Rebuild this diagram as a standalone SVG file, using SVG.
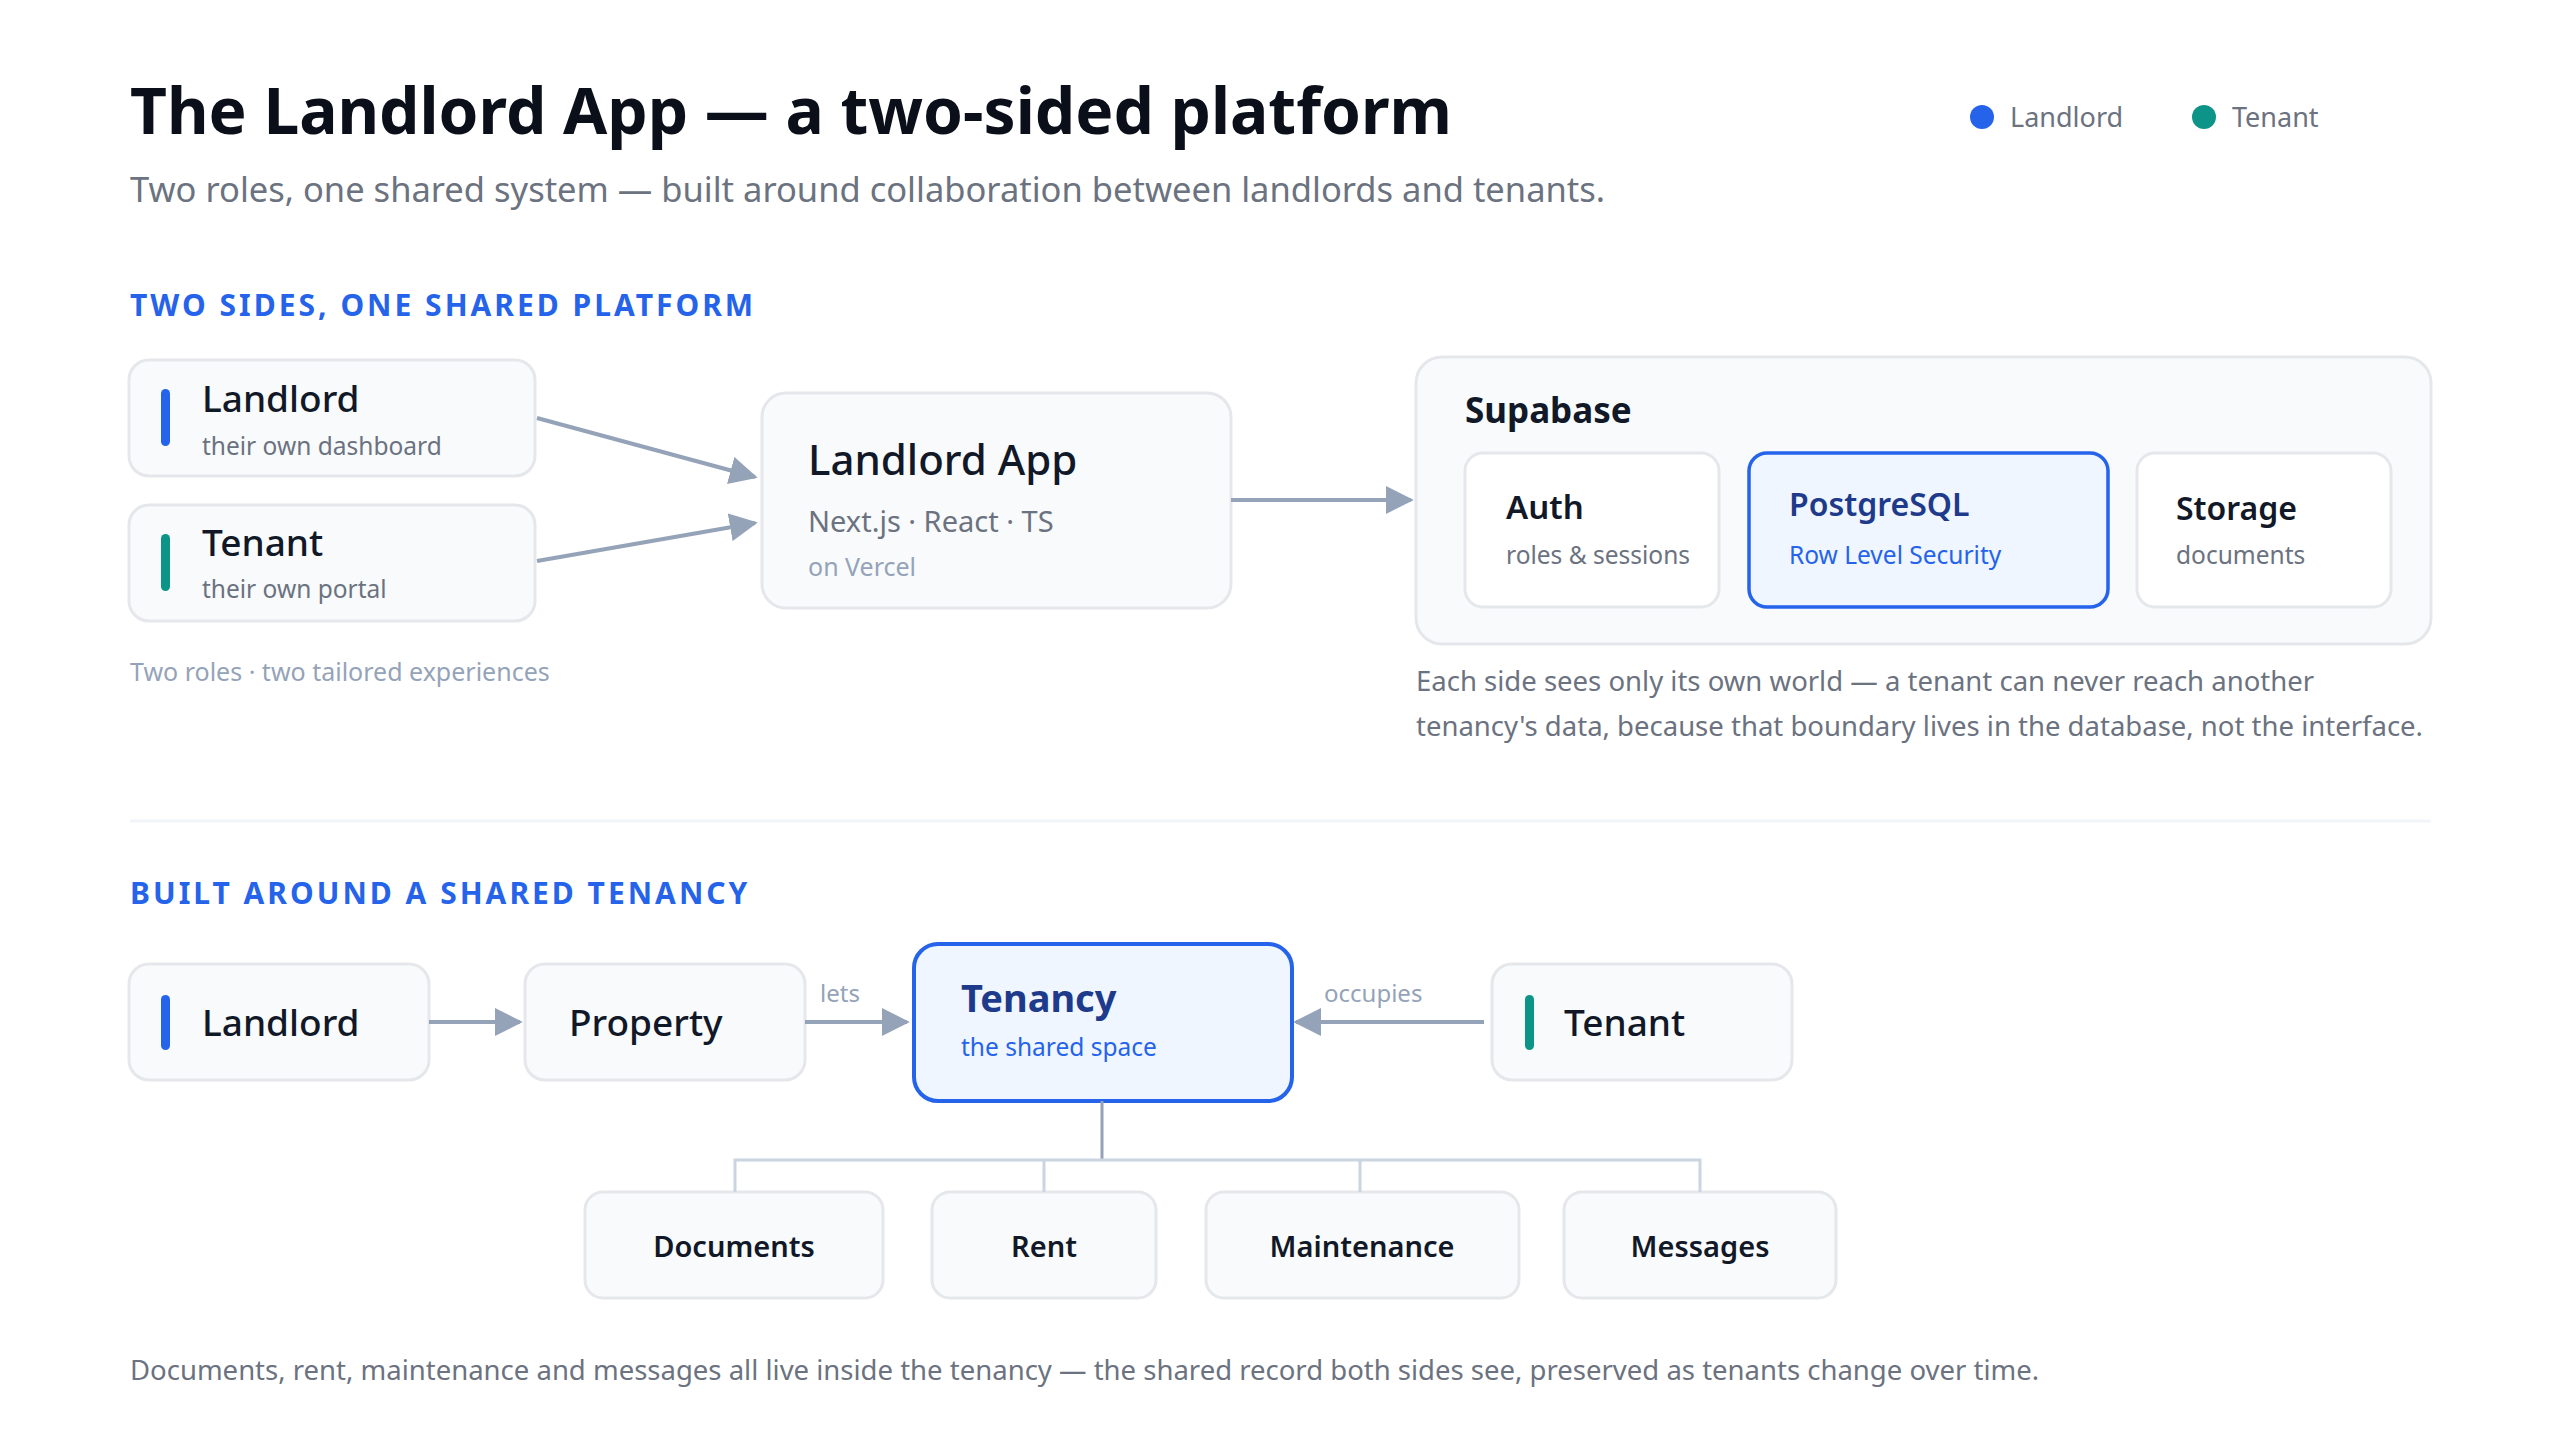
<svg xmlns="http://www.w3.org/2000/svg" width="2560" height="1440" viewBox="0 0 2560 1440">
<defs>
<marker id="ah" viewBox="0 0 10 10" refX="9" refY="5" markerWidth="7" markerHeight="7" markerUnits="strokeWidth" orient="auto"><path d="M0,0 L10,5 L0,10 z" fill="#94a3b8"/></marker>
<style>
text{font-family:"Noto Sans","Open Sans","DejaVu Sans",sans-serif}
.card{fill:#f8fafc;stroke:#e5e7eb;stroke-width:3}
.white{fill:#ffffff;stroke:#e5e7eb;stroke-width:3}
.hl{fill:#eff6ff;stroke:#2563eb;stroke-width:3.5}
.h{font-size:30px;font-weight:700;fill:#2563eb;letter-spacing:3px}
.name{font-size:37px;font-weight:500;fill:#111827}
.sub{font-size:24.5px;fill:#6b7280}
.child{font-size:29px;font-weight:600;fill:#111827;text-anchor:middle}
.note{font-size:27.5px;fill:#6b7280}
.lbl{font-size:24px;fill:#94a3b8}
.conn{stroke:#94a3b8;stroke-width:4;fill:none}
</style>
</defs>
<rect width="2560" height="1440" fill="#ffffff"/>
<text x="130" y="134" font-size="64" font-weight="700" fill="#0b0f19">The Landlord App — a two-sided platform</text>
<text x="130" y="202" font-size="34.5" fill="#6b7280">Two roles, one shared system — built around collaboration between landlords and tenants.</text>
<g id="legend">
<circle cx="1982" cy="117" r="12" fill="#2563eb"/><text x="2010" y="127" font-size="27" fill="#6b7280">Landlord</text>
<circle cx="2204" cy="117" r="12" fill="#0d9488"/><text x="2232" y="127" font-size="27" fill="#6b7280">Tenant</text>
</g>
<text class="h" x="130" y="316">TWO SIDES, ONE SHARED PLATFORM</text>
<g id="landlord1"><rect class="card" x="129" y="360" width="406" height="116" rx="20"/><rect x="161" y="389" width="9" height="57" rx="4.5" fill="#2563eb"/><text class="name" x="202" y="412">Landlord</text><text class="sub" x="202" y="455">their own dashboard</text></g>
<g id="tenant1"><rect class="card" x="129" y="505" width="406" height="116" rx="20"/><rect x="161" y="534" width="9" height="57" rx="4.5" fill="#0d9488"/><text class="name" x="202" y="556">Tenant</text><text class="sub" x="202" y="598">their own portal</text></g>
<text x="130" y="681" font-size="25" fill="#94a3b8">Two roles · two tailored experiences</text>
<g id="app"><rect class="card" x="762" y="393" width="469" height="215" rx="24"/><text x="808" y="475" font-size="42" font-weight="500" fill="#111827">Landlord App</text><text x="808" y="532" font-size="29" fill="#6b7280">Next.js · React · TS</text><text x="808" y="576" font-size="25" fill="#94a3b8">on Vercel</text></g>
<g id="supabase"><rect class="card" x="1416" y="357" width="1015" height="287" rx="26"/><text x="1465" y="423" font-size="35" font-weight="700" fill="#111827">Supabase</text>
<g id="auth"><rect class="white" x="1465" y="453" width="254" height="154" rx="18"/><text x="1506" y="519" font-size="33" font-weight="600" fill="#111827">Auth</text><text class="sub" x="1506" y="564">roles &amp; sessions</text></g>
<g id="postgres"><rect class="hl" x="1749" y="453" width="359" height="154" rx="18"/><text x="1789" y="516" font-size="32" font-weight="600" fill="#1e3a8a">PostgreSQL</text><text x="1789" y="564" font-size="24.5" fill="#2563eb">Row Level Security</text></g>
<g id="storage"><rect class="white" x="2137" y="453" width="254" height="154" rx="18"/><text x="2176" y="520" font-size="32" font-weight="600" fill="#111827">Storage</text><text class="sub" x="2176" y="564">documents</text></g>
</g>
<text class="note" x="1416" y="691">Each side sees only its own world — a tenant can never reach another</text>
<text class="note" x="1416" y="736">tenancy's data, because that boundary lives in the database, not the interface.</text>
<line x1="130" y1="821" x2="2431" y2="821" stroke="#f1f5f9" stroke-width="3"/>
<text class="h" x="130" y="904">BUILT AROUND A SHARED TENANCY</text>
<g id="landlord2"><rect class="card" x="129" y="964" width="300" height="116" rx="20"/><rect x="161" y="995" width="9" height="55" rx="4.5" fill="#2563eb"/><text class="name" x="202" y="1036">Landlord</text></g>
<g id="property"><rect class="card" x="525" y="964" width="280" height="116" rx="20"/><text class="name" x="569" y="1036">Property</text></g>
<g id="tenancy"><rect x="914" y="944" width="378" height="157" rx="24" fill="#eff6ff" stroke="#2563eb" stroke-width="4"/><text x="961" y="1012" font-size="38" font-weight="700" fill="#1e3a8a">Tenancy</text><text x="961" y="1056" font-size="24.5" fill="#2563eb">the shared space</text></g>
<g id="tenant2"><rect class="card" x="1492" y="964" width="300" height="116" rx="20"/><rect x="1525" y="995" width="9" height="55" rx="4.5" fill="#0d9488"/><text class="name" x="1564" y="1036">Tenant</text></g>
<g id="documents"><rect class="card" x="585" y="1192" width="298" height="106" rx="18"/><text class="child" x="734" y="1257">Documents</text></g>
<g id="rent"><rect class="card" x="932" y="1192" width="224" height="106" rx="18"/><text class="child" x="1044" y="1257">Rent</text></g>
<g id="maintenance"><rect class="card" x="1206" y="1192" width="313" height="106" rx="18"/><text class="child" x="1362" y="1257">Maintenance</text></g>
<g id="messages"><rect class="card" x="1564" y="1192" width="272" height="106" rx="18"/><text class="child" x="1700" y="1257">Messages</text></g>
<g id="connectors">
<line class="conn" x1="537" y1="418" x2="755" y2="477" marker-end="url(#ah)"/>
<line class="conn" x1="537" y1="561" x2="755" y2="523" marker-end="url(#ah)"/>
<line class="conn" x1="1231" y1="500" x2="1411" y2="500" marker-end="url(#ah)"/>
<line class="conn" x1="429" y1="1022" x2="520" y2="1022" marker-end="url(#ah)"/>
<line class="conn" x1="805" y1="1022" x2="907" y2="1022" marker-end="url(#ah)"/>
<line class="conn" x1="1484" y1="1022" x2="1296" y2="1022" marker-end="url(#ah)"/>
<line x1="1102" y1="1101" x2="1102" y2="1160" stroke="#94a3b8" stroke-width="3"/>
<path d="M735,1192 V1160 H1700 V1192 M1044,1160 V1192 M1360,1160 V1192" fill="none" stroke="#cbd5e1" stroke-width="3"/>
<text class="lbl" x="820" y="1002">lets</text>
<text class="lbl" x="1324" y="1002">occupies</text>
</g>
<text class="note" x="130" y="1380" font-size="27">Documents, rent, maintenance and messages all live inside the tenancy — the shared record both sides see, preserved as tenants change over time.</text>
</svg>
